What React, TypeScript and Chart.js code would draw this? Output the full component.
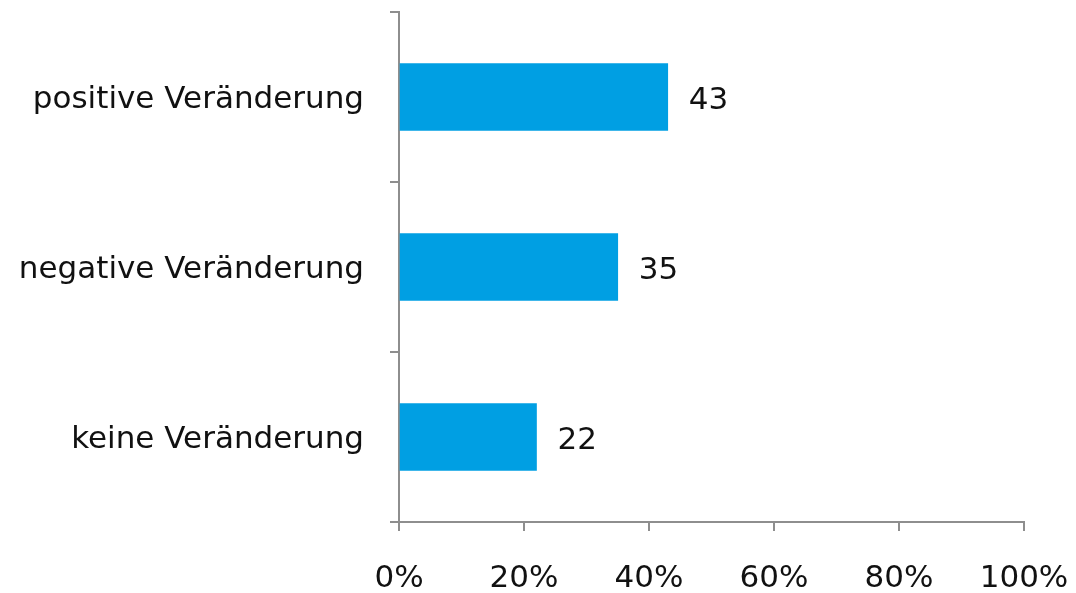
import React, { useEffect, useRef } from "react";
import { Chart, registerables } from "chart.js";

Chart.register(...registerables);

const categories = ["positive Veränderung", "negative Veränderung", "keine Veränderung"];
const values = [43, 35, 22];
const xTicks = [0, 20, 40, 60, 80, 100];

const FONT = "'DejaVu Sans', Verdana, sans-serif";
const FONT_SIZE = 31;
const AXIS_COLOR = "#8e8e8e";

const valueLabels = {
  id: "valueLabels",
  afterDatasetsDraw(chart: any) {
    const ctx = chart.ctx;
    const meta = chart.getDatasetMeta(0);
    ctx.save();
    ctx.font = `${FONT_SIZE}px ${FONT}`;
    ctx.fillStyle = "#111111";
    ctx.textAlign = "left";
    ctx.textBaseline = "middle";
    meta.data.forEach((bar: any, i: number) => {
      ctx.fillText(String(values[i]), bar.x + 21, bar.y + 4);
    });
    ctx.restore();
  },
};

function zeroPadding(scale: any) {
  scale.paddingLeft = 0;
  scale.paddingRight = 0;
  scale.paddingTop = 0;
  scale.paddingBottom = 0;
}

export default function App() {
  const ref = useRef<HTMLCanvasElement | null>(null);
  useEffect(() => {
    if (!ref.current) return;
    const chart = new Chart(ref.current, {
      type: "bar",
      data: {
        labels: categories,
        datasets: [
          {
            data: values,
            backgroundColor: "#009FE3",
            borderWidth: 0,
            barThickness: 67,
          },
        ],
      },
      options: {
        indexAxis: "y",
        animation: false,
        responsive: false,
        maintainAspectRatio: false,
        layout: { padding: { top: 12, right: 52, left: 0, bottom: 0 } },
        plugins: { legend: { display: false }, tooltip: { enabled: false } },
        scales: {
          x: {
            min: 0,
            max: 100,
            afterBuildTicks(scale: any) {
              scale.ticks = xTicks.map((v) => ({ value: v }));
            },
            afterFit(scale: any) {
              scale.height = 71;
              zeroPadding(scale);
            },
            border: { display: true, color: AXIS_COLOR, width: 2 },
            grid: {
              drawOnChartArea: false,
              drawTicks: true,
              tickLength: 9,
              color: AXIS_COLOR,
              lineWidth: 2,
            },
            ticks: {
              callback: (v: any) => `${v}%`,
              color: "#111111",
              font: { family: FONT, size: FONT_SIZE },
              padding: 29,
              maxRotation: 0,
              autoSkip: false,
            },
          },
          y: {
            afterFit(scale: any) {
              scale.width = 399;
              zeroPadding(scale);
            },
            border: { display: true, color: AXIS_COLOR, width: 2 },
            grid: {
              offset: true,
              drawOnChartArea: false,
              drawTicks: true,
              tickLength: 9,
              color: AXIS_COLOR,
              lineWidth: 2,
            },
            ticks: {
              color: "#111111",
              font: { family: FONT, size: FONT_SIZE },
              padding: 26,
              labelOffset: 3,
            },
          },
        },
      },
      plugins: [valueLabels],
    });
    return () => chart.destroy();
  }, []);
  return (
    <div style={{ position: "fixed", left: 0, top: 0, width: 1076, height: 593, background: "#fff" }}>
      <canvas ref={ref} width={1076} height={593} style={{ width: 1076, height: 593 }} />
    </div>
  );
}
